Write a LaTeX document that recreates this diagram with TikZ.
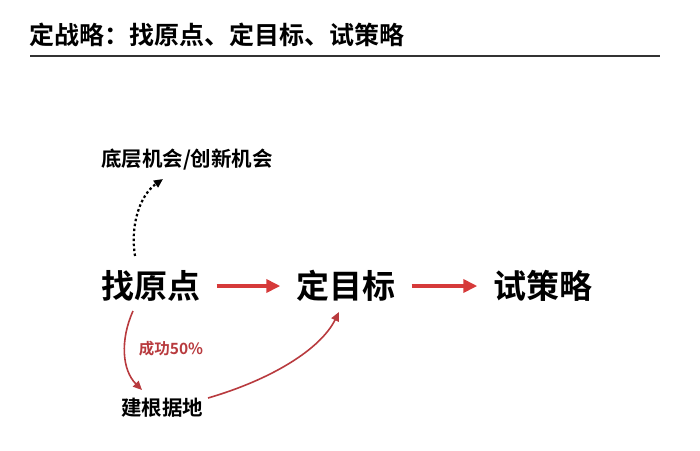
\documentclass[tikz,border=0pt]{standalone}
\usepackage{fontspec}
\newfontfamily\cjk{Noto Sans CJK SC}
\newfontfamily\cjkb{Noto Sans CJK SC Bold}
\usetikzlibrary{arrows.meta,calc}
\definecolor{arrred}{HTML}{D63A3A}
\definecolor{darkred}{HTML}{B83A3E}
\begin{document}
\begin{tikzpicture}[x=1pt,y=-1pt,
  title/.style={font=\cjkb\fontsize{25}{28}\selectfont, anchor=west, inner sep=0},
  main/.style={font=\cjkb\fontsize{33}{36}\selectfont, inner sep=0},
  small/.style={font=\cjkb\fontsize{20.5}{22}\selectfont, inner sep=0},
  redarrow/.style={arrred, line width=3.8pt, -{Triangle[length=14pt,width=13pt]}},
  thinred/.style={darkred, line width=1.6pt, -{Triangle[length=9pt,width=8pt]}},
  dotarrow/.style={black, line width=2.2pt, dash pattern=on 2.5pt off 2.5pt, -{Triangle[length=9pt,width=8pt]}}]
\useasboundingbox (0,0) rectangle (700,450);
\node[title] (title) at (29,35) {定战略：找原点、定目标、试策略};
\coordinate (l1) at (30,56);
\coordinate (l2) at (660,56);
\draw[line width=1.3pt, black!80] (l1) -- (l2);
\node[main] (a) at (151,286) {找原点};
\node[main] (b) at (346,286) {定目标};
\node[main] (c) at (543,286) {试策略};
\draw[redarrow] ($(a.east)+(16,0)$) -- ($(b.west)+(-16,0)$);
\draw[redarrow] ($(b.east)+(16,0)$) -- ($(c.west)+(-16,0)$);
\node[small] (opp) at (187,160) {底层机会/创新机会};
\node[font=\cjkb\fontsize{15.5}{17}\selectfont, text=darkred, inner sep=0] (pct) at (171,349) {成功50\%};
\node[small] (base) at (162,408) {建根据地};
\coordinate (d0) at (135,256);
\coordinate (d1) at (163,179);
\draw[dotarrow] (d0) .. controls (130,225) and (140,195) .. (d1);
\coordinate (r0) at (133,311);
\coordinate (r1) at (142,390);
\draw[thinred] (r0) .. controls (120,340) and (122,370) .. (r1);
\coordinate (s0) at (208,398);
\coordinate (s1) at (339,312);
\draw[thinred] (s0) .. controls (270,380) and (320,350) .. (s1);
\end{tikzpicture}
\end{document}
